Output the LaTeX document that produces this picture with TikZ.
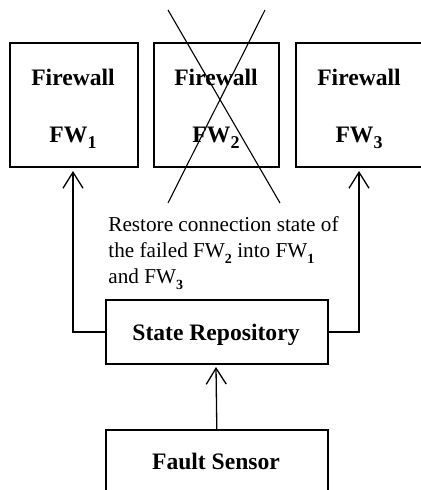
\documentclass[tikz,border=0pt]{standalone}
\usepackage{fontspec}
\setmainfont{Liberation Serif}
\usetikzlibrary{arrows.meta}

% lowered bold digits used for the firewall indices
\newcommand\fwidx[1]{\raisebox{-3pt}{\bfseries\fontsize{7}{8}\selectfont #1}}
\newcommand\fwidxbig[1]{\raisebox{-2.6pt}{\bfseries\fontsize{9}{10}\selectfont #1}}

\tikzset{
  unit/.style={draw, line width=0.8pt, inner sep=0pt},
  boxtitle/.style={font=\bfseries\fontsize{11.8}{14}\selectfont, inner sep=0pt, anchor=base},
  notetext/.style={font=\fontsize{10.6}{13}\selectfont, inner sep=0pt, anchor=base west},
  link/.style={line width=0.65pt, -{Straight Barb[length=8pt, width=10pt, line width=0.65pt]}},
  strike/.style={line width=0.55pt}
}

\begin{document}
\begin{tikzpicture}[x=0.5pt, y=-0.5pt]
  \useasboundingbox (0,0) rectangle (420,490);

  % firewall boxes
  \node[unit, minimum width=64pt, minimum height=62pt, anchor=north west] (fw1) at (9,42.5) {};
  \node[unit, minimum width=62.5pt, minimum height=62pt, anchor=north west] (fw2) at (153,42.5) {};
  \node[unit, minimum width=64pt, minimum height=62pt, anchor=north west] (fw3) at (295,42.5) {};

  \node[boxtitle] (fw1a) at (73,86) {Firewall};
  \node[boxtitle] (fw1b) at (73,143) {FW\fwidxbig{1}};
  \node[boxtitle] (fw2a) at (216,86) {Firewall};
  \node[boxtitle] (fw2b) at (216,143) {FW\fwidxbig{2}};
  \node[boxtitle] (fw3a) at (359,86) {Firewall};
  \node[boxtitle] (fw3b) at (359,143) {FW\fwidxbig{3}};

  % the failed firewall is crossed out
  \coordinate (xa1) at (168,10);
  \coordinate (xa2) at (280,203);
  \coordinate (xb1) at (265,10);
  \coordinate (xb2) at (168,203);
  \draw[strike] (xa1) -- (xa2);
  \draw[strike] (xb1) -- (xb2);

  % state repository and fault sensor
  \node[unit, minimum width=111pt, minimum height=32pt, anchor=north west] (repo) at (105,299) {};
  \node[boxtitle] (repot) at (216,340) {State Repository};
  \node[unit, minimum width=111pt, minimum height=40pt, anchor=north west] (sensor) at (105,429) {};
  \node[boxtitle] (sensort) at (216,469) {Fault Sensor};

  % explanatory note
  \node[notetext] (note1) at (108,232) {Restore connection state of};
  \node[notetext] (note2) at (108,258) {the failed FW\fwidx{2} into FW\fwidx{1}};
  \node[notetext] (note3) at (108,284) {and FW\fwidx{3}};

  % connectors
  \coordinate (tip1) at (73,171);
  \coordinate (tip3) at (359,171);
  \draw[link] (repo.west |- 0,332) -| (tip1);
  \draw[link] (repo.east |- 0,332) -| (tip3);
  \coordinate (tipr) at (216,367);
  \draw[link] (sensor.north) -- (tipr);
\end{tikzpicture}
\end{document}
